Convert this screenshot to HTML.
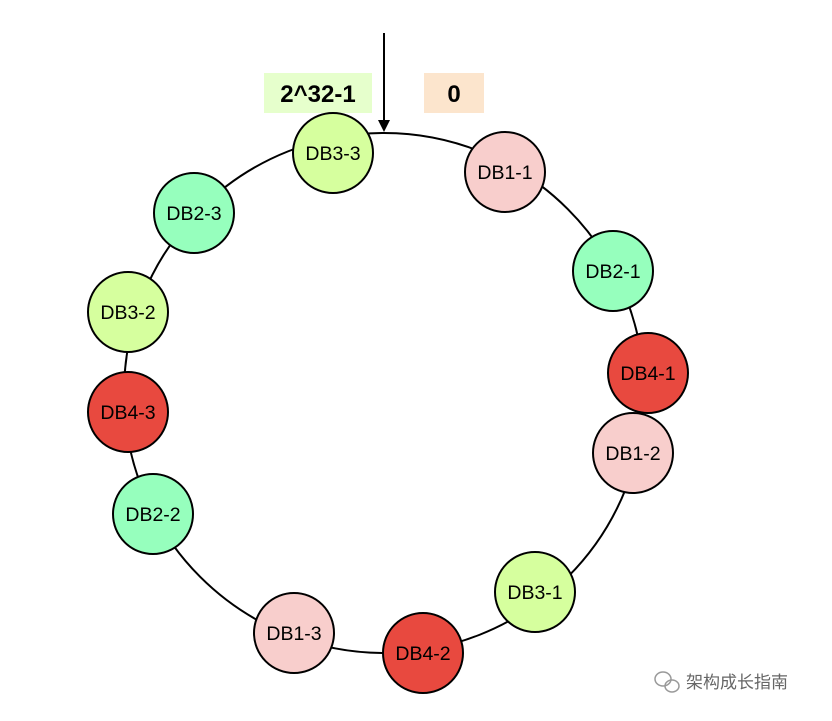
<!DOCTYPE html>
<html><head><meta charset="utf-8"><style>
body{margin:0;background:#fff;}
</style></head><body>
<svg width="832" height="716" viewBox="0 0 832 716" xmlns="http://www.w3.org/2000/svg" font-family="Liberation Sans, Arial, sans-serif">
<rect width="832" height="716" fill="#fff"/>
<circle cx="384" cy="393" r="260" fill="none" stroke="#000" stroke-width="2"/>
<rect x="264" y="73" width="108" height="40" fill="#e6ffcc"/>
<text x="318" y="102" font-size="24" font-weight="bold" text-anchor="middle">2^32-1</text>
<rect x="424" y="73" width="60" height="40" fill="#fce5cd"/>
<text x="454" y="102" font-size="24" font-weight="bold" text-anchor="middle">0</text>
<line x1="384" y1="33" x2="384" y2="122" stroke="#000" stroke-width="2"/>
<polygon points="378,120 390,120 384,132" fill="#000"/>
<g stroke="#000" stroke-width="2">
<circle cx="333" cy="153" r="40" fill="#d6ff9e"/>
<circle cx="505" cy="172" r="40" fill="#f8cecc"/>
<circle cx="613" cy="271" r="40" fill="#96ffbd"/>
<circle cx="648" cy="373" r="40" fill="#e8493f"/>
<circle cx="633" cy="453" r="40" fill="#f8cecc"/>
<circle cx="535" cy="592" r="40" fill="#d6ff9e"/>
<circle cx="423" cy="653" r="40" fill="#e8493f"/>
<circle cx="294" cy="633" r="40" fill="#f8cecc"/>
<circle cx="153" cy="514" r="40" fill="#96ffbd"/>
<circle cx="128" cy="412" r="40" fill="#e8493f"/>
<circle cx="128" cy="312" r="40" fill="#d6ff9e"/>
<circle cx="194" cy="213" r="40" fill="#96ffbd"/>
</g>
<g font-size="19.5" text-anchor="middle" fill="#000">
<text x="333" y="160">DB3-3</text>
<text x="505" y="179">DB1-1</text>
<text x="613" y="278">DB2-1</text>
<text x="648" y="380">DB4-1</text>
<text x="633" y="460">DB1-2</text>
<text x="535" y="599">DB3-1</text>
<text x="423" y="660">DB4-2</text>
<text x="294" y="640">DB1-3</text>
<text x="153" y="521">DB2-2</text>
<text x="128" y="419">DB4-3</text>
<text x="128" y="319">DB3-2</text>
<text x="194" y="220">DB2-3</text>
</g>
<g fill="none" stroke="#999" stroke-width="1.5">
<ellipse cx="663" cy="679" rx="8" ry="7"/>
<ellipse cx="672" cy="686" rx="7" ry="6"/>
</g>
<text x="686" y="688" font-size="17" fill="#666" font-family="Liberation Sans, Noto Sans CJK SC, sans-serif">架构成长指南</text>
</svg>
</body></html>
